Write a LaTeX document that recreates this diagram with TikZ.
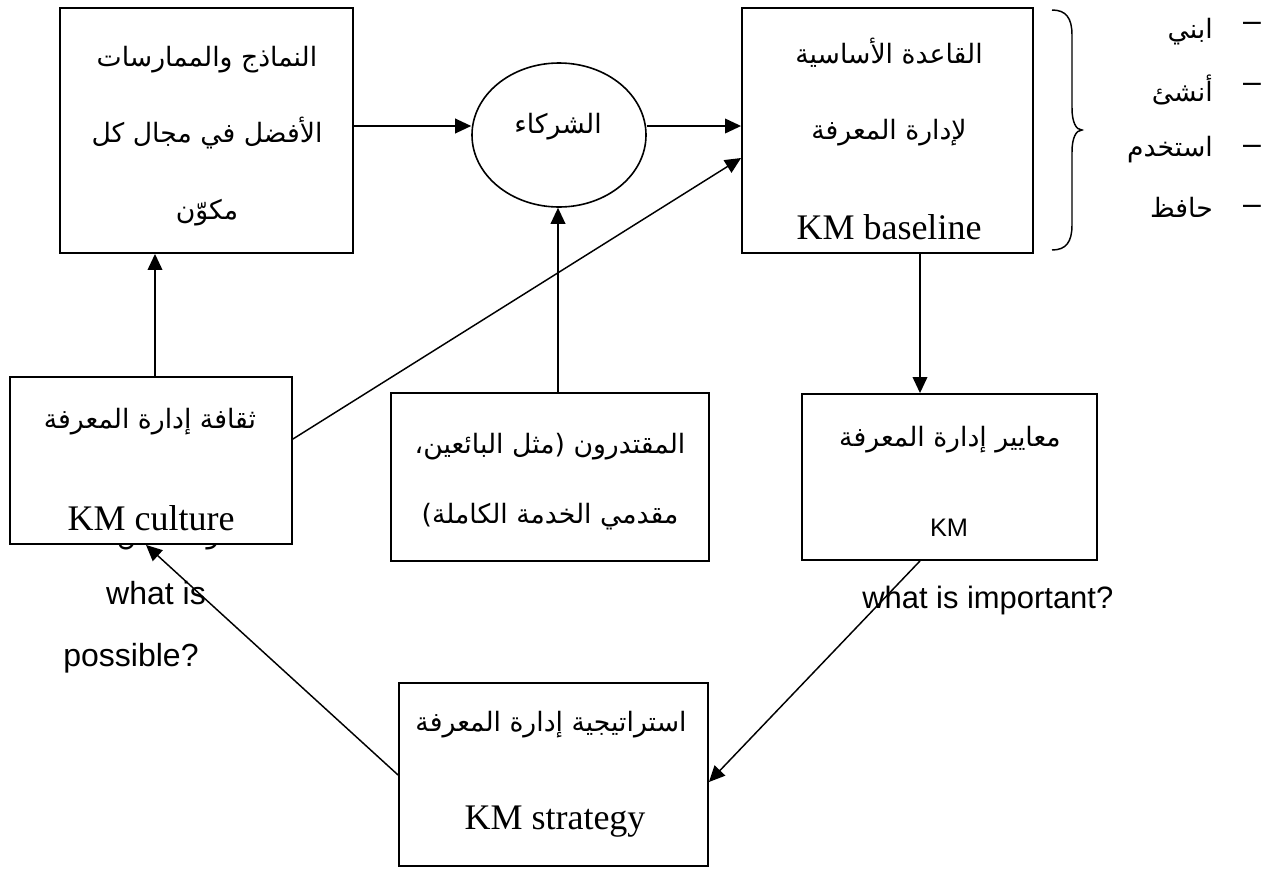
\documentclass[tikz,border=0pt]{standalone}
\usepackage{fontspec}
\setmainfont{Liberation Serif}
\newfontfamily\arabicfont[Script=Arabic]{DejaVu Sans}
\newfontfamily\labelsans{Liberation Sans}
\TeXXeTstate=1
\usetikzlibrary{arrows.meta,shapes.geometric,fit}

\tikzset{
  box/.style={draw, line width=1.4pt, fill=white, inner sep=0pt},
  ar/.style={font=\arabicfont\fontsize{20}{24}\selectfont, inner sep=0pt},
  arlist/.style={font=\arabicfont\fontsize{20}{24}\selectfont, inner sep=0pt, anchor=east},
  lat/.style={font=\fontsize{27}{32}\selectfont, inner sep=0pt},
  sans/.style={font=\labelsans\fontsize{24}{28}\selectfont, inner sep=0pt},
  conn/.style={line width=1.1pt},
  arr/.style={conn, -{Triangle[length=12pt,width=11pt]}},
}

\begin{document}
\begin{tikzpicture}[x=0.75pt,y=-0.75pt]
\useasboundingbox (0,0) rectangle (1264,868);

% helper rows and columns for connector ends
\coordinate (r1) at (0,126);
\coordinate (r2) at (0,158);
\coordinate (r3) at (0,439);
\coordinate (r4) at (0,782);
\coordinate (r5) at (0,775);
\coordinate (c1) at (155,0);
\coordinate (c2) at (558,0);
\coordinate (c3) at (920,0);
\coordinate (c4) at (146,0);

% models and best practices
\node[box, fit={(60,8) (353,253)}] (A) {};
\node[ar] (a1) at (207,60) {\beginR النماذج والممارسات\endR};
\node[ar] (a2) at (207,133) {\beginR الأفضل في مجال كل\endR};
\node[ar] (a3) at (207,213) {\beginR مكوّن\endR};

% partners
\node[draw, ellipse, line width=1.2pt, minimum width=130.5pt, minimum height=108pt, inner sep=0pt] (P) at (559,135) {};
\node[ar] (p1) at (558,127) {\beginR الشركاء\endR};

% KM baseline
\node[box, fit={(742,8) (1033,253)}] (B) {};
\node[ar] (b1) at (889,53) {\beginR القاعدة الأساسية\endR};
\node[ar] (b2) at (889,133) {\beginR لإدارة المعرفة\endR};
\node[lat] (b3) at (889,227) {KM baseline};

% brace and action list
\draw[line width=1.1pt] (1052,10) .. controls (1066,10) and (1072,18) .. (1072,35)
  -- (1072,108) .. controls (1072,122) and (1076,130) .. (1082,130)
  .. controls (1076,130) and (1072,138) .. (1072,152)
  -- (1072,225) .. controls (1072,242) and (1066,250) .. (1052,250);
\node[arlist] (l1) at (1213,32) {\beginR ابني\endR};
\node[arlist] (l2) at (1213,90) {\beginR أنشئ\endR};
\node[arlist] (l3) at (1213,150) {\beginR استخدم\endR};
\node[arlist] (l4) at (1213,207) {\beginR حافظ\endR};
\node[sans] (d1) at (1252,27) {–};
\node[sans] (d2) at (1252,88) {–};
\node[sans] (d3) at (1252,150) {–};
\node[sans] (d4) at (1252,210) {–};

% caption partly hidden under the culture box
\node[ar, anchor=base] (hid) at (184,543) {\beginR ما هو الممكن؟\endR};

% KM culture
\node[box, fit={(10,377) (292,544)}] (C) {};
\node[ar] (c1t) at (150,422) {\beginR ثقافة إدارة المعرفة\endR};
\node[lat] (c2t) at (151,518) {KM culture};

% enablers
\node[box, fit={(391,393) (709,561)}] (D) {};
\node[ar] (d1t) at (550,447) {\beginR المقتدرون (مثل البائعين،\endR};
\node[ar] (d2t) at (550,517) {\beginR مقدمي الخدمة الكاملة)\endR};

% KM standards
\node[box, fit={(802,394) (1097,560)}] (E) {};
\node[ar] (e1) at (950,440) {\beginR معايير إدارة المعرفة\endR};
\node[font=\labelsans\fontsize{19}{22}\selectfont, inner sep=0pt] (e2) at (949,528) {KM};

% KM strategy
\node[box, fit={(399,683) (708,866)}] (F) {};
\node[ar] (f1) at (551,725) {\beginR استراتيجية إدارة المعرفة\endR};
\node[lat] (f2) at (555,822) {KM strategy};

% question labels
\node[sans] (q1) at (156,593) {what is};
\node[sans] (q2) at (131,658) {possible?};
\node[sans, anchor=west, font=\labelsans\fontsize{23.2}{28}\selectfont] (q3) at (862,600) {what is important?};

% connectors
\draw[arr] (A.east |- r1) -- (P.west |- r1);
\draw[arr] (P.east |- r1) -- (B.west |- r1);
\draw[arr] (C.east |- r3) -- (B.west |- r2);
\draw[arr] (C.north -| c1) -- (A.south -| c1);
\draw[arr] (D.north -| c2) -- (P.south -| c2);
\draw[arr] (B.south -| c3) -- (E.north -| c3);
\draw[arr] (E.south -| c3) -- (F.east |- r4);
\draw[arr] (F.west |- r5) -- (C.south -| c4);
\end{tikzpicture}
\end{document}
